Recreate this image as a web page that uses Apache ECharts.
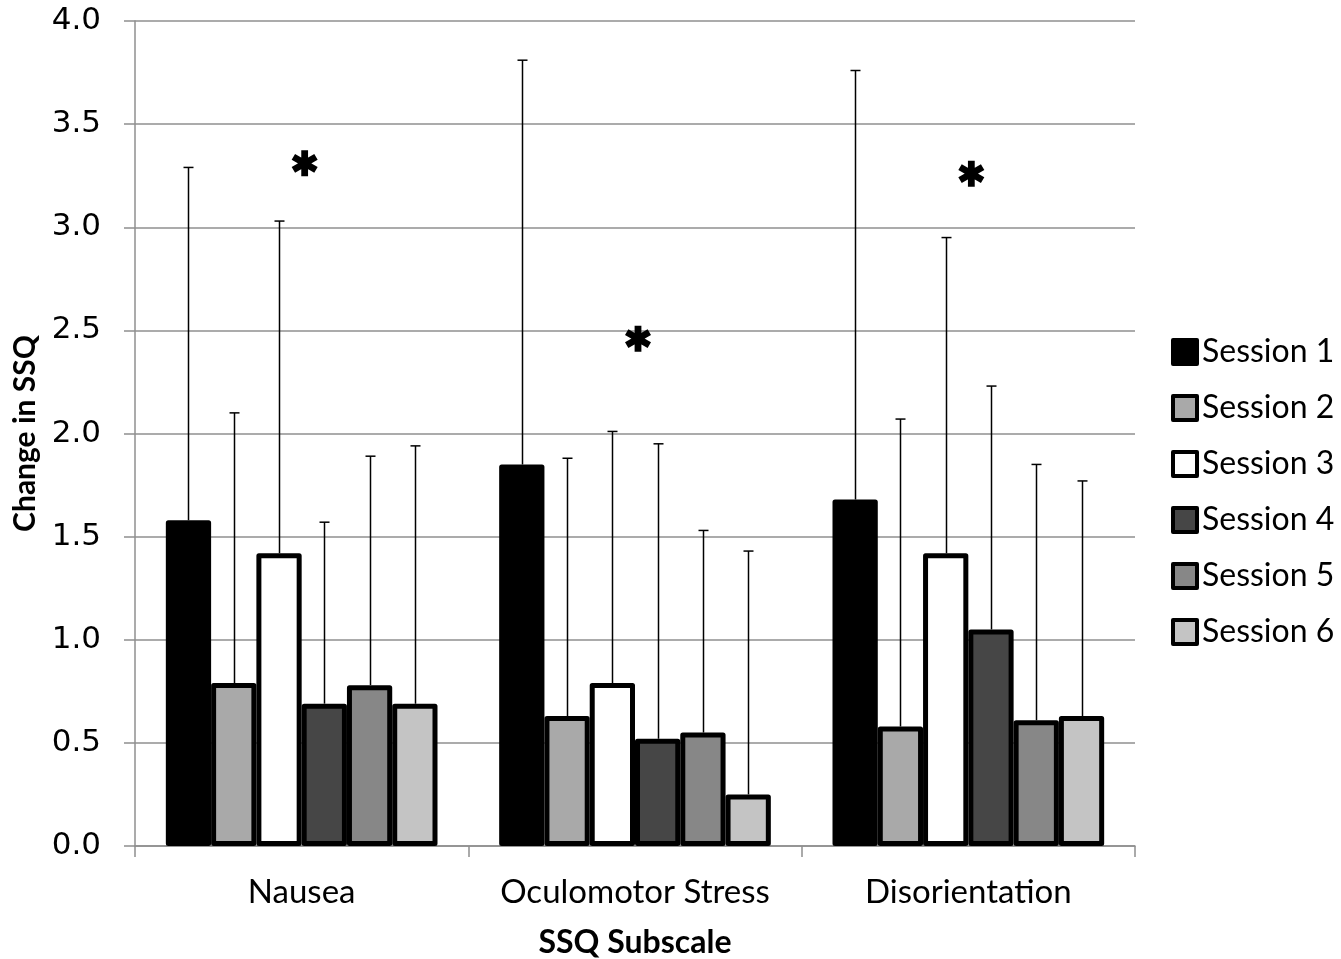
<!DOCTYPE html>
<html>
<head>
<meta charset="utf-8">
<script src="https://cdn.jsdelivr.net/npm/echarts@6/dist/echarts.min.js"></script>
<style>html,body{margin:0;padding:0;background:#fff;overflow:hidden;}#c{width:1341px;height:959px;}</style>
</head>
<body>
<div id="c"></div>
<script>
const categories = ['Nausea', 'Oculomotor Stress', 'Disorientation'];
const sessions = ['Session 1', 'Session 2', 'Session 3', 'Session 4', 'Session 5', 'Session 6'];
const session1 = [1.58, 1.85, 1.68];
const session2 = [0.79, 0.63, 0.58];
const session3 = [1.42, 0.79, 1.42];
const session4 = [0.69, 0.52, 1.05];
const session5 = [0.78, 0.55, 0.61];
const session6 = [0.69, 0.25, 0.63];
const errTop1 = [3.29, 3.81, 3.76];
const errTop2 = [2.10, 1.88, 2.07];
const errTop3 = [3.03, 2.01, 2.95];
const errTop4 = [1.57, 1.95, 2.23];
const errTop5 = [1.89, 1.53, 1.85];
const errTop6 = [1.94, 1.43, 1.77];
const sigCategories = ['Nausea', 'Oculomotor Stress', 'Disorientation'];
const sigY = [3.31, 2.46, 3.26];
const yTicks = [0, 0.5, 1.0, 1.5, 2.0, 2.5, 3.0, 3.5, 4.0];

const means = [session1, session2, session3, session4, session5, session6];
const tops = [errTop1, errTop2, errTop3, errTop4, errTop5, errTop6];
const colors = ['#000000', '#a9a9a9', '#ffffff', '#464646', '#878787', '#c4c4c4'];
const catGap = 0.185;

// asterisk symbol path: three thick bars crossing at centre
function asteriskPath() {
  const L = 50, W = 13;
  let d = '';
  [90, 30, 150].forEach(a => {
    const r = a * Math.PI / 180;
    const ux = Math.cos(r), uy = -Math.sin(r);
    const px = -uy, py = ux;
    const pts = [
      [L * ux + W * px, L * uy + W * py],
      [L * ux - W * px, L * uy - W * py],
      [-L * ux - W * px, -L * uy - W * py],
      [-L * ux + W * px, -L * uy + W * py]
    ];
    d += 'M' + pts.map(p => (p[0] + 50).toFixed(2) + ' ' + (p[1] + 50).toFixed(2)).join('L') + 'Z';
  });
  return 'path://' + d;
}

const series = [];
sessions.forEach((name, i) => {
  series.push({
    type: 'bar', name: name, data: means[i],
    barGap: '0%', barCategoryGap: (catGap * 100) + '%',
    itemStyle: { color: colors[i], borderColor: '#000', borderWidth: 5, borderJoin: 'round' },
    z: 2
  });
});
sessions.forEach((name, i) => {
  series.push({
    type: 'custom', name: 'err' + (i + 1), z: 5,
    data: categories.map((c, j) => [j, means[i][j], tops[i][j]]),
    encode: { x: 0, y: 2 },
    renderItem: function (params, api) {
      const cat = api.value(0);
      const top = api.coord([cat, api.value(2)]);
      const base = api.coord([cat, api.value(1)]);
      const catW = api.size([1, 0])[0];
      const groupW = catW * (1 - catGap);
      const bw = groupW / sessions.length;
      const x = Math.round(top[0] - groupW / 2 + bw * (i + 0.5)) + 0.5;
      const st = { stroke: '#000', lineWidth: 1.5 };
      return { type: 'group', children: [
        { type: 'line', shape: { x1: x, y1: base[1], x2: x, y2: top[1] }, style: st },
        { type: 'line', shape: { x1: x - 5, y1: top[1], x2: x + 5, y2: top[1] }, style: st }
      ]};
    }
  });
});
series.push({
  type: 'scatter', name: 'sig', z: 6,
  data: sigCategories.map((c, j) => [c, sigY[j]]),
  symbol: asteriskPath(), symbolSize: 26, symbolOffset: [3, 0],
  itemStyle: { color: '#000', opacity: 1 }
});

const chart = echarts.init(document.getElementById('c'), null, { renderer: 'canvas' });
chart.setOption({
  animation: false,
  backgroundColor: '#fff',
  grid: { left: 135, right: 206, top: 21, bottom: 113, containLabel: false, outerBoundsMode: 'none' },
  legend: {
    data: sessions, orient: 'vertical', left: 1171, top: 336, padding: 0,
    itemWidth: 24, itemHeight: 24, itemGap: 24, icon: 'rect',
    textStyle: { fontFamily: 'Lato', fontSize: 32, color: '#000' },
    itemStyle: { borderColor: '#000', borderWidth: 4 }
  },
  xAxis: {
    type: 'category', data: categories,
    name: 'SSQ Subscale', nameLocation: 'middle', nameGap: 81,
    nameTextStyle: { fontFamily: 'Lato', fontWeight: 'bold', fontSize: 32, color: '#000' },
    axisLine: { lineStyle: { color: '#8f8f8f', width: 1.5 } },
    axisTick: { show: true, length: 11, lineStyle: { color: '#8f8f8f', width: 1.5 } },
    axisLabel: { interval: 0, fontFamily: 'Lato', fontSize: 33, color: '#000', margin: 30 }
  },
  yAxis: {
    type: 'value', min: 0, max: 4, interval: 0.5,
    name: 'Change in SSQ', nameLocation: 'middle', nameGap: 90, nameRotate: 90,
    nameTextStyle: { fontFamily: 'Lato', fontWeight: 'bold', fontSize: 30, color: '#000' },
    axisLine: { show: true, lineStyle: { color: '#8f8f8f', width: 1.5 } },
    axisTick: { show: true, length: 11, lineStyle: { color: '#8f8f8f', width: 1.5 } },
    splitLine: { lineStyle: { color: '#8f8f8f', width: 1.5 } },
    axisLabel: { fontFamily: 'DejaVu Sans', fontSize: 31, color: '#000', margin: 34,
      formatter: v => (yTicks.indexOf(v) >= 0 ? v.toFixed(1) : '') }
  },
  series: series
});
</script>
</body>
</html>
